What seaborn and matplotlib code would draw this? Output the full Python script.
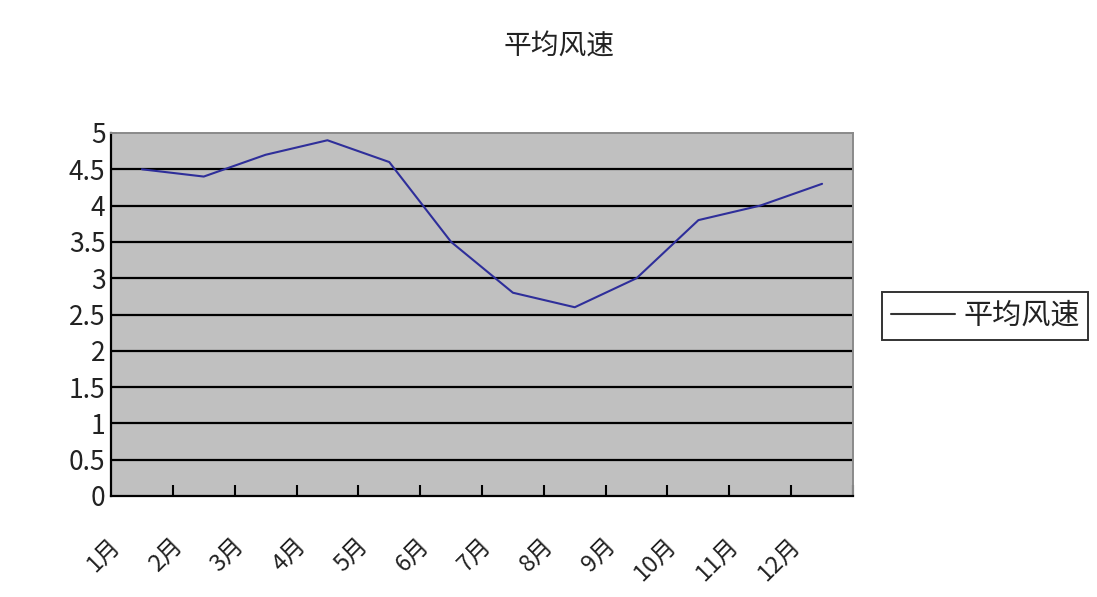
import seaborn as sns
import matplotlib
matplotlib.use('Agg')
import matplotlib.pyplot as plt
import matplotlib.transforms as mtransforms
from matplotlib.ticker import FixedLocator
import pandas as pd
import numpy as np

# data
months = ['1月', '2月', '3月', '4月', '5月', '6月', '7月', '8月', '9月', '10月', '11月', '12月']
wind_speed = [4.5, 4.4, 4.7, 4.9, 4.6, 3.5, 2.8, 2.6, 3.0, 3.8, 4.0, 4.3]
y_ticks = [0, 0.5, 1, 1.5, 2, 2.5, 3, 3.5, 4, 4.5, 5]
y_labels = ['0', '0.5', '1', '1.5', '2', '2.5', '3', '3.5', '4', '4.5', '5']

sns.set_style('white')
plt.rcParams['font.family'] = ['Noto Sans CJK SC', 'DejaVu Sans']

df = pd.DataFrame({'月份': months, '平均风速': wind_speed})
df['pos'] = np.arange(len(months))

fig = plt.figure(figsize=(10.97, 5.97), dpi=100)
ax = fig.add_axes([111/1097, 1 - 496/597, (853-111)/1097, (496-133)/597])
ax.set_facecolor('#c0c0c0')

sns.lineplot(data=df, x='pos', y='平均风速', ax=ax, color='#2e2e9a', linewidth=1.5,
             label='平均风速', legend=False)

ax.set_xlim(-0.5, 11.5)
ax.set_ylim(0, 5)

# horizontal grid like excel
for v in y_ticks[1:-1]:
    ax.axhline(v, color='black', lw=1.6, zorder=1)

ax.set_yticks(y_ticks)
ax.set_yticklabels(y_labels, fontsize=19)
ax.tick_params(axis='y', left=True, direction='in', length=4, width=1.2, pad=4, colors='#222222')

ax.set_xticks(df['pos'])
ax.set_xticklabels(months, fontsize=17, rotation=45, ha='right', color='#222222')
ax.tick_params(axis='x', which='major', bottom=True, length=0, pad=27)
ax.xaxis.set_minor_locator(FixedLocator(np.arange(0.5, 12, 1)))
ax.tick_params(axis='x', which='minor', bottom=True, direction='in', length=8, width=1.5, color='black')
shift = mtransforms.ScaledTranslation(-17/100, 0, fig.dpi_scale_trans)
for lab in ax.get_xticklabels():
    lab.set_transform(lab.get_transform() + shift)

ax.set_xlabel('')
ax.set_ylabel('')

for side in ['left', 'bottom']:
    ax.spines[side].set_color('black')
    ax.spines[side].set_linewidth(1.6)
for side in ['top', 'right']:
    ax.spines[side].set_color('#8a8a8a')
    ax.spines[side].set_linewidth(1.4)
    ax.spines[side].set_visible(True)

fig.text(559/1097, 1 - 47/597, '平均风速', ha='center', va='center', fontsize=20, color='#222222')

leg = fig.legend(handles=ax.get_lines()[:1], labels=['平均风速'],
                 loc='upper left', bbox_to_anchor=(882/1097, 1 - 292/597),
                 fontsize=21, frameon=True, fancybox=False, handlelength=2.2,
                 borderpad=0.3, handletextpad=0.28, borderaxespad=0)
leg.get_frame().set_edgecolor('black')
leg.get_frame().set_linewidth(1.4)
leg.get_lines()[0].set_color('#333333')
for t in leg.get_texts():
    t.set_color('#222222')

fig.savefig('out.png', dpi=100)
